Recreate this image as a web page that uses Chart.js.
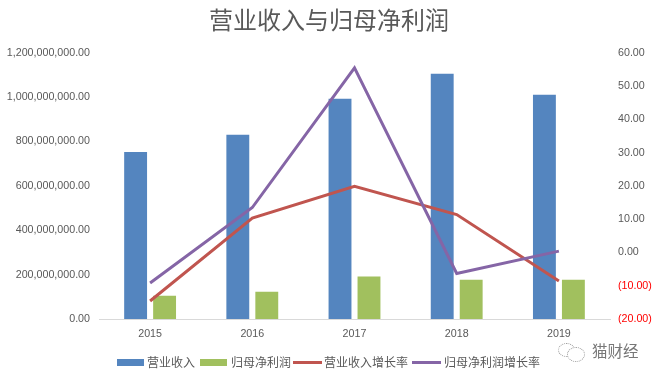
<!DOCTYPE html>
<html>
<head>
<meta charset="utf-8">
<title>营业收入与归母净利润</title>
<script src="https://cdn.jsdelivr.net/npm/chart.js@4"></script>
<style>
  html, body { margin: 0; background: #fff; }
  #box { position: relative; width: 658px; height: 379px; overflow: hidden; }
  #legend { position: absolute; left: 0; top: 354px; height: 16px; width: 658px; font: 12px "Noto Sans CJK SC", sans-serif; color: #595959; }
  #legend span { position: absolute; top: 0; line-height: 16px; white-space: nowrap; }
  #legend i { position: absolute; display: block; }
  #mark { position: absolute; left: 592px; top: 339px; font: 15.5px "Noto Sans CJK SC", sans-serif; color: #777; white-space: nowrap; }
  .bub { position: absolute; border: 1px dotted #999; border-radius: 50%; background: #fff; }
</style>
</head>
<body>
<div id="box">
  <canvas id="grafico" width="658" height="379"></canvas>
  <div id="legend"></div>
  <div class="bub" style="left:558px;top:343px;width:15px;height:12px"></div>
  <div class="bub" style="left:567px;top:347px;width:16px;height:13px"></div>
  <div id="mark">猫财经</div>
</div>
<script>
// 数据
const anos = ['2015', '2016', '2017', '2018', '2019'];
const receita = [753000000, 831000000, 993000000, 1105000000, 1011000000];
const lucro = [105000000, 123000000, 192000000, 177000000, 177000000];
const receitaCresc = [-14.6, 10.3, 19.9, 11.4, -8.6];
const lucroCresc = [-9.2, 13.5, 55.5, -6.3, 0.4];

const nomes = ['营业收入', '归母净利润', '营业收入增长率', '归母净利润增长率'];
const cores = ['#5485bf', '#a1c05e', '#c0554f', '#8565a6'];
const fonte = '"Liberation Sans", sans-serif';
const cinza = '#595959';

const ctx = document.getElementById('grafico').getContext('2d');
new Chart(ctx, {
    data: {
        labels: anos,
        datasets: [
            { type: 'line', label: nomes[3], data: lucroCresc, yAxisID: 'y2', borderColor: cores[3], borderWidth: 3, pointRadius: 0, tension: 0, order: 1 },
            { type: 'line', label: nomes[2], data: receitaCresc, yAxisID: 'y2', borderColor: cores[2], borderWidth: 3, pointRadius: 0, tension: 0, order: 2 },
            { type: 'bar', label: nomes[0], data: receita, yAxisID: 'y', backgroundColor: cores[0], categoryPercentage: 0.567, barPercentage: 0.79, order: 3 },
            { type: 'bar', label: nomes[1], data: lucro, yAxisID: 'y', backgroundColor: cores[1], categoryPercentage: 0.567, barPercentage: 0.79, order: 4 }
        ]
    },
    options: {
        responsive: false,
        animation: false,
        layout: { padding: 0 },
        plugins: {
            legend: { display: false },
            tooltip: { enabled: false },
            title: {
                display: true,
                text: '营业收入与归母净利润',
                color: cinza,
                font: { family: '"Noto Sans CJK SC", sans-serif', size: 24, weight: 'normal' },
                padding: { top: 5, bottom: 19 }
            }
        },
        scales: {
            x: {
                grid: { display: false, drawTicks: false },
                border: { display: true, color: '#d9d9d9', width: 1 },
                ticks: { color: cinza, font: { family: fonte, size: 10.7 }, padding: 9, maxRotation: 0 },
                afterFit: s => { s.height = 60; }
            },
            y: {
                position: 'left',
                min: 0,
                max: 1200000000,
                grid: { display: false, drawTicks: false },
                border: { display: false },
                ticks: {
                    stepSize: 200000000,
                    color: cinza,
                    font: { family: fonte, size: 10.7 },
                    padding: 9,
                    callback: v => v.toLocaleString('en-US', { minimumFractionDigits: 2, maximumFractionDigits: 2 })
                },
                afterFit: s => { s.width = 99; }
            },
            y2: {
                position: 'right',
                min: -20,
                max: 60,
                grid: { display: false, drawTicks: false },
                border: { display: false },
                ticks: {
                    stepSize: 10,
                    color: c => c.tick.value < 0 ? '#ff0000' : cinza,
                    font: { family: fonte, size: 10.7 },
                    padding: 8,
                    callback: v => v < 0 ? '(' + Math.abs(v).toFixed(2) + ')' : v.toFixed(2)
                },
                afterFit: s => { s.width = 48; }
            }
        }
    }
});

// 图例
const legenda = document.getElementById('legend');
const posicoes = [[117, 147], [200, 231], [293, 324], [412, 444]];
nomes.forEach((nome, i) => {
    const amostra = document.createElement('i');
    const barra = i < 2;
    amostra.style.cssText = 'left:' + posicoes[i][0] + 'px;width:' + (barra ? 27 : 29) + 'px;top:' + (barra ? 5 : 7) + 'px;height:' + (barra ? 7 : 3) + 'px;background:' + cores[i];
    legenda.appendChild(amostra);
    const texto = document.createElement('span');
    texto.style.left = posicoes[i][1] + 'px';
    texto.textContent = nome;
    legenda.appendChild(texto);
});
</script>
</body>
</html>
